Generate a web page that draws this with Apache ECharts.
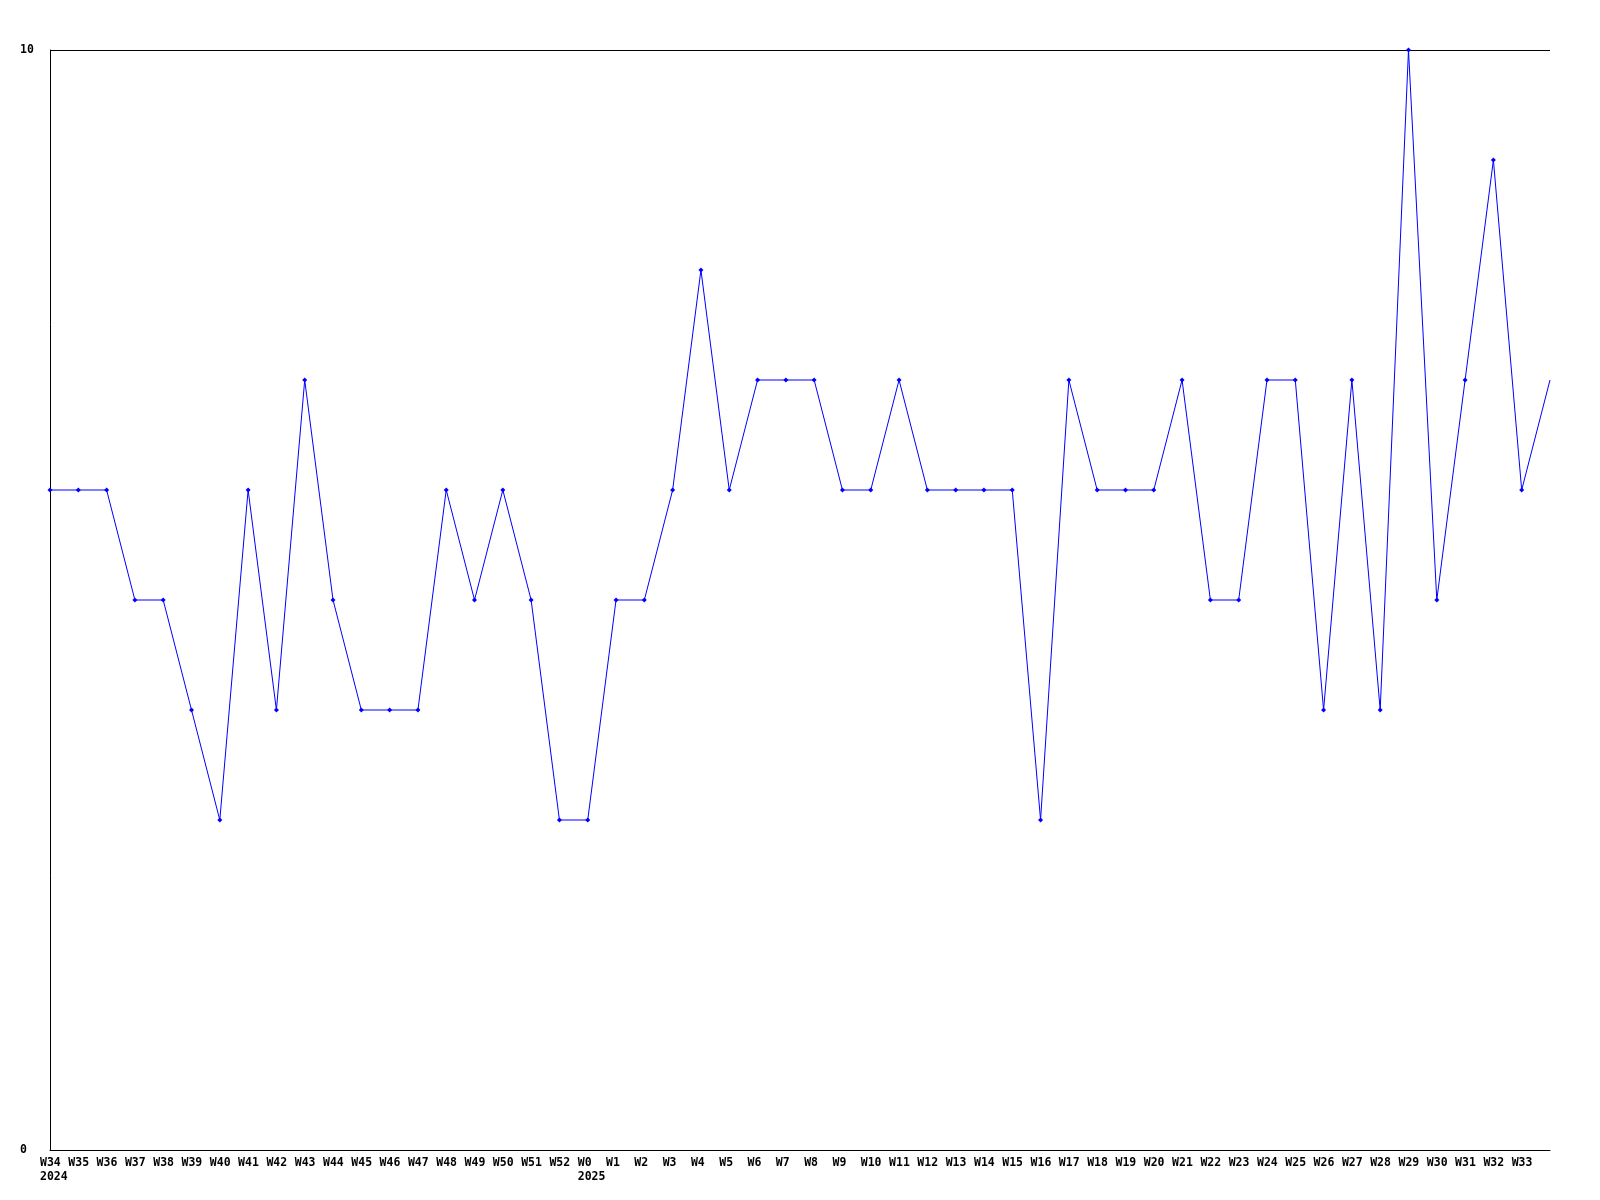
<!DOCTYPE html>
<html>
<head>
<meta charset="utf-8">
<script src="https://cdn.jsdelivr.net/npm/echarts@6/dist/echarts.min.js"></script>
<style>
html,body{margin:0;padding:0;background:#fff;}
#c{width:1600px;height:1200px;}
</style>
</head>
<body>
<div id="c"></div>
<script>
var weeks = ['W34','W35','W36','W37','W38','W39','W40','W41','W42','W43','W44','W45','W46','W47','W48','W49','W50','W51','W52',
  'W0','W1','W2','W3','W4','W5','W6','W7','W8','W9','W10','W11','W12','W13','W14','W15','W16','W17','W18','W19','W20',
  'W21','W22','W23','W24','W25','W26','W27','W28','W29','W30','W31','W32','W33','W34'];
var yearLabels = {0: '2024', 19: '2025'};
var values = [6,6,6,5,5,4,3,6,4,7,5,4,4,4,6,5,6,5,3,
  3,5,5,6,8,6,7,7,7,6,6,7,6,6,6,6,3,7,6,6,6,
  7,5,5,7,7,4,7,4,10,5,7,9,6,7];
var yTicks = [0, 10];

var chart = echarts.init(document.getElementById('c'), null, {renderer: 'canvas'});
var font = '"DejaVu Sans Mono", monospace';
var seriesData = values.map(function (v, i) {
  return i === values.length - 1 ? {value: v, symbol: 'none'} : v;
});
chart.setOption({
  animation: false,
  backgroundColor: '#ffffff',
  grid: {left: 50, right: 50, top: 50, bottom: 50, containLabel: false, outerBoundsMode: 'none'},
  xAxis: {
    type: 'category',
    data: weeks,
    boundaryGap: false,
    axisLine: {show: true, lineStyle: {color: '#000', width: 1}},
    axisTick: {show: false},
    splitLine: {show: false},
    axisLabel: {
      interval: function (idx) { return idx < weeks.length - 1; },
      showMinLabel: true,
      hideOverlap: false,
      color: '#000',
      fontFamily: font,
      fontWeight: 'bold',
      fontSize: 11.5,
      lineHeight: 14,
      align: 'left',
      padding: [0, 0, 0, -10],
      margin: 6,
      formatter: function (val, idx) {
        return yearLabels[idx] ? val + '\n' + yearLabels[idx] : val;
      }
    }
  },
  yAxis: {
    type: 'value',
    min: yTicks[0],
    max: yTicks[1],
    interval: yTicks[1] - yTicks[0],
    axisLine: {show: true, lineStyle: {color: '#000', width: 1}},
    axisTick: {show: false},
    splitLine: {show: true, lineStyle: {color: '#000', width: 1}},
    axisLabel: {
      color: '#000',
      fontFamily: font,
      fontWeight: 'bold',
      fontSize: 11.5,
      align: 'left',
      padding: [3, 0, 0, 0],
      margin: 30
    }
  },
  series: [{
    type: 'line',
    data: seriesData,
    symbol: 'diamond',
    symbolSize: 5,
    showAllSymbol: true,
    lineStyle: {color: '#0000ff', width: 1},
    itemStyle: {color: '#0000ff'},
    clip: false
  }]
});
</script>
</body>
</html>
